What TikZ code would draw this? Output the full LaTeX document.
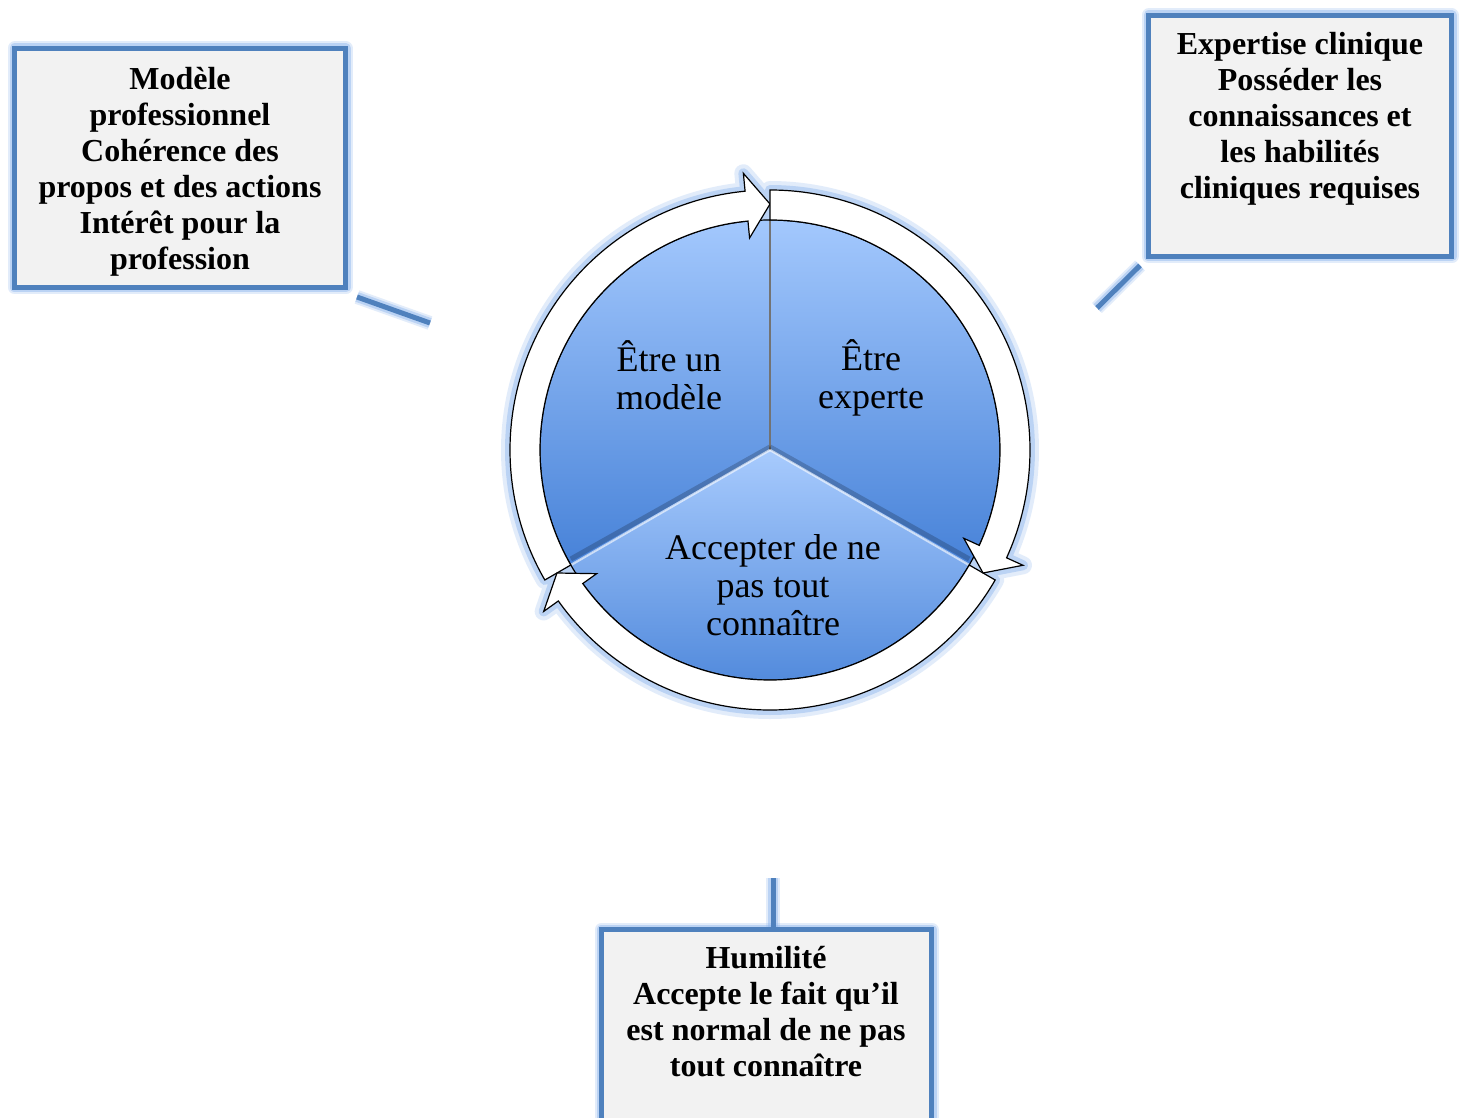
\documentclass[tikz,border=0pt]{standalone}
\usepackage{fontspec}
\setmainfont{Liberation Serif}
\definecolor{boxblue}{HTML}{4F81BD}
\definecolor{boxfill}{HTML}{F2F2F2}
\definecolor{glowc}{HTML}{8DB6EE}
\definecolor{pietop}{HTML}{A3C8FD}
\definecolor{piebot}{HTML}{4782D8}
\newcommand{\ringarrowpath}[2]{(#1:260) arc[start angle=#1,end angle=#2+5.5,radius=260] -- (#2+5.5:278) -- (#2:246) -- (#2+5.5:213) -- (#2+5.5:230) arc[start angle=#2+5.5,end angle=#1,radius=230] -- cycle}
\tikzset{
  glowed/.style={preaction={draw=glowc,line width=7pt,opacity=0.25,line join=round},
                 preaction={draw=glowc,line width=5pt,opacity=0.45,line join=round}},
  calloutbox/.style={rectangle,draw=boxblue,line width=2.5pt,fill=boxfill,inner sep=0pt,glowed},
  callline/.style={draw=boxblue,line width=2.5pt,glowed},
  boxtext/.style={align=center,inner sep=0pt,font=\fontsize{16}{18}\selectfont\bfseries},
  pietext/.style={align=center,inner sep=0pt,font=\fontsize{18}{19}\selectfont},
  ringglow/.style={draw=glowc,line join=round},
  ringpiece/.style={fill=white,draw=black,line width=0.6pt,line join=miter},
}
\begin{document}
\begin{tikzpicture}[x=0.5pt,y=0.5pt]
\useasboundingbox (0,0) rectangle (1467,-1118);
\clip (0,0) rectangle (1467,-1118);
\fill[white] (0,0) rectangle (1467,-1118);

% ---- cycle ----
\begin{scope}[shift={(770,-450)}]
  % glow of the ring
  \path[ringglow,line width=9pt,opacity=0.25] \ringarrowpath{210}{90} \ringarrowpath{90}{-30} \ringarrowpath{-30}{-150};
  \path[ringglow,line width=5pt,opacity=0.45] \ringarrowpath{210}{90} \ringarrowpath{90}{-30} \ringarrowpath{-30}{-150};
  % pie sectors
  \shade[top color=pietop,bottom color=piebot] (0,0) -- (90:230) arc[start angle=90,end angle=210,radius=230] -- cycle;
  \shade[top color=pietop,bottom color=piebot] (0,0) -- (-30:230) arc[start angle=-30,end angle=90,radius=230] -- cycle;
  \shade[top color=pietop!95!white,bottom color=piebot] (0,0) -- (210:230) arc[start angle=210,end angle=330,radius=230] -- cycle;
  % dividers
  \draw[black!55,line width=0.6pt] (0,0) -- (90:230);
  \draw[black,opacity=0.2,line width=2.5pt] (0,3) -- ([yshift=3]210:230);
  \draw[black,opacity=0.2,line width=2.5pt] (0,3) -- ([yshift=3]330:230);
  \draw[white,opacity=0.6,line width=1.2pt] (0,0) -- (210:230);
  \draw[white,opacity=0.6,line width=1.2pt] (0,0) -- (330:230);
  \draw[black,line width=0.6pt] (0,0) circle[radius=230];
  % ring arrows
  \path[ringpiece] \ringarrowpath{210}{90};
  \path[ringpiece] \ringarrowpath{-30}{-150};
  \path[ringpiece] \ringarrowpath{90}{-30};
\end{scope}

\node[pietext] (modele) at (669,-375) {Être un\\modèle};
\node[pietext] (experte) at (871,-378) {Être\\experte};
\node[pietext] (accepter) at (773,-585) {Accepter de ne\\pas tout\\connaître};

% ---- callout boxes ----
\node[calloutbox,minimum width=165.5pt,minimum height=119.5pt] (modelbox) at (180,-168) {};
\node[calloutbox,minimum width=151.5pt,minimum height=120.5pt] (expbox) at (1300,-136) {};
\node[calloutbox,minimum width=165pt,minimum height=105.25pt] (humbox) at (766.5,-1034.75) {};

\node[boxtext] (modeltxt) at (180,-171.5) {Modèle\\professionnel\\Cohérence des\\propos et des actions\\Intérêt pour la\\profession};
\node[boxtext] (exptxt) at (1300,-119) {Expertise clinique\\Posséder les\\connaissances et\\les habilités\\cliniques requises};
\node[boxtext] (humtxt) at (766,-1011.5) {Humilité\\Accepte le fait qu’il\\est normal de ne pas\\tout connaître};

% ---- callout connectors ----
\coordinate (mend) at (430,-323);
\coordinate (eend) at (1097,-308);
\coordinate (hend) at (773,-878);
\draw[callline] ([shift={(9,-7)}]modelbox.south east) -- (mend);
\draw[callline] ([shift={(-6,-6.5)}]expbox.south west) -- (eend);
\draw[callline] (hend) -- (hend |- humbox.north);
\end{tikzpicture}
\end{document}
